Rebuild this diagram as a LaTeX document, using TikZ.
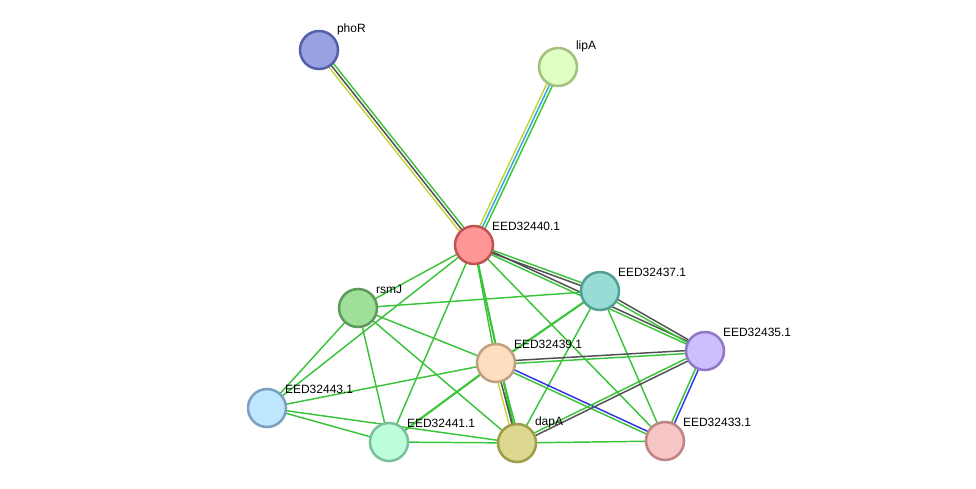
\documentclass[tikz,border=0pt]{standalone}
\usepackage{fontspec}
\setmainfont{Liberation Sans}
\usepackage{tikz}
\usetikzlibrary{calc, backgrounds}
\usepackage{xcolor}

\definecolor{sgreen}{RGB}{58,196,58}
\definecolor{sgrey}{RGB}{80,80,80}
\definecolor{syellow}{RGB}{196,212,58}
\definecolor{sblue}{RGB}{50,50,235}
\definecolor{scyan}{RGB}{50,168,225}

\newcommand{\strline}[4]{\draw[edge, #4] ($(#1)!#3!90:(#2)$) -- ($(#2)!#3!-90:(#1)$);}

\begin{document}
\begin{tikzpicture}[
    x=0.75pt, y=-0.75pt,
    prot/.style={circle, line width=1.9pt, minimum size=28.5pt, inner sep=0pt},
    lbl/.style={font=\fontsize{9}{10}\selectfont, inner sep=1pt, xshift=1.6pt, yshift=-0.9pt, text=black},
    edge/.style={line width=1.1pt}
]
\useasboundingbox (0,0) rectangle (976,489);

\node[prot, fill={rgb,255:red,152;green,162;blue,224}, draw={rgb,255:red,86;green,96;blue,168}, label={[lbl]45:phoR}] (phoR) at (319,50) {};
\node[prot, fill={rgb,255:red,224;green,255;blue,194}, draw={rgb,255:red,162;green,192;blue,126}, label={[lbl]45:lipA}] (lipA) at (558,67) {};
\node[prot, fill={rgb,255:red,255;green,150;blue,150}, draw={rgb,255:red,192;green,84;blue,84}, label={[lbl]45:EED32440.1}] (e440) at (474,245) {};
\node[prot, fill={rgb,255:red,152;green,221;blue,213}, draw={rgb,255:red,85;green,160;blue,149}, label={[lbl]45:EED32437.1}] (e437) at (600,291) {};
\node[prot, fill={rgb,255:red,158;green,224;blue,151}, draw={rgb,255:red,94;green,154;blue,94}, label={[lbl]45:rsmJ}] (rsmJ) at (358,308) {};
\node[prot, fill={rgb,255:red,255;green,221;blue,191}, draw={rgb,255:red,192;green,160;blue,130}, label={[lbl]45:EED32439.1}] (e439) at (496,363) {};
\node[prot, fill={rgb,255:red,205;green,191;blue,255}, draw={rgb,255:red,144;green,120;blue,197}, label={[lbl]45:EED32435.1}] (e435) at (705,351) {};
\node[prot, fill={rgb,255:red,190;green,230;blue,255}, draw={rgb,255:red,122;green,162;blue,192}, label={[lbl]45:EED32443.1}] (e443) at (267,408) {};
\node[prot, fill={rgb,255:red,190;green,255;blue,219}, draw={rgb,255:red,122;green,192;blue,156}, label={[lbl]45:EED32441.1}] (e441) at (389,442) {};
\node[prot, fill={rgb,255:red,220;green,216;blue,143}, draw={rgb,255:red,160;green,156;blue,76}, label={[lbl]45:dapA}] (dapA) at (517,443) {};
\node[prot, fill={rgb,255:red,246;green,198;blue,198}, draw={rgb,255:red,192;green,132;blue,132}, label={[lbl]45:EED32433.1}] (e433) at (665,441) {};

\begin{pgfonlayer}{background}
\strline{phoR}{e440}{2.2pt}{sgreen}
\strline{phoR}{e440}{0pt}{sgrey}
\strline{phoR}{e440}{-2.2pt}{syellow}
\strline{lipA}{e440}{2.2pt}{sgreen}
\strline{lipA}{e440}{0pt}{scyan}
\strline{lipA}{e440}{-2.2pt}{syellow}
\strline{e440}{e437}{1.1pt}{sgreen}
\strline{e440}{e437}{-1.1pt}{sgrey}
\strline{e440}{e435}{1.1pt}{sgrey}
\strline{e440}{e435}{-1.1pt}{sgreen}
\strline{e440}{rsmJ}{0pt}{sgreen}
\strline{e440}{e443}{0pt}{sgreen}
\strline{e440}{e441}{0pt}{sgreen}
\strline{e440}{e439}{0pt}{sgreen}
\strline{e440}{dapA}{0pt}{sgreen, line width=1.6pt}
\strline{e440}{e433}{0pt}{sgreen}
\strline{rsmJ}{e437}{0pt}{sgreen}
\strline{rsmJ}{e439}{0pt}{sgreen}
\strline{rsmJ}{dapA}{0pt}{sgreen}
\strline{rsmJ}{e441}{0pt}{sgreen}
\strline{rsmJ}{e443}{0pt}{sgreen}
\strline{e437}{e439}{0pt}{sgreen, line width=1.6pt}
\strline{e437}{dapA}{0pt}{sgreen}
\strline{e437}{e433}{0pt}{sgreen}
\strline{e437}{e435}{1.1pt}{sgrey}
\strline{e437}{e435}{-1.1pt}{sgreen}
\strline{e439}{e441}{0pt}{sgreen, line width=1.6pt}
\strline{e439}{e443}{0pt}{sgreen}
\strline{e439}{e435}{1.1pt}{sgrey}
\strline{e439}{e435}{-1.1pt}{sgreen}
\strline{e439}{e433}{1.1pt}{sblue}
\strline{e439}{e433}{-1.1pt}{sgreen}
\strline{e439}{dapA}{-2.2pt}{syellow}
\strline{e439}{dapA}{0pt}{sgrey}
\strline{e439}{dapA}{2.2pt}{sgreen}
\strline{e435}{dapA}{1.1pt}{sgrey}
\strline{e435}{dapA}{-1.1pt}{sgreen}
\strline{e435}{e433}{1.1pt}{sblue}
\strline{e435}{e433}{-1.1pt}{sgreen}
\strline{e443}{e441}{0pt}{sgreen}
\strline{e443}{dapA}{0pt}{sgreen}
\strline{e441}{dapA}{0pt}{sgreen}
\strline{dapA}{e433}{0pt}{sgreen}
\end{pgfonlayer}
\end{tikzpicture}
\end{document}
